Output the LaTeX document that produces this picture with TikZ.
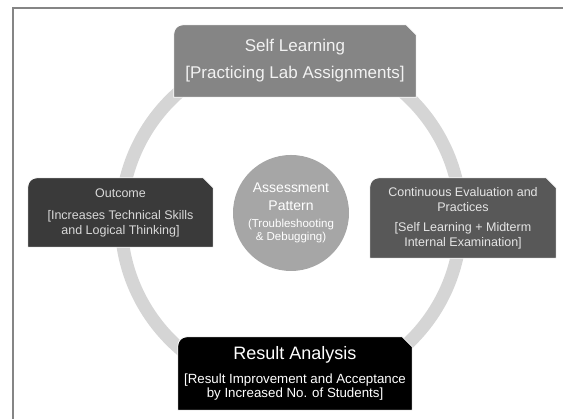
\documentclass[tikz,border=0pt]{standalone}
\usepackage{fontspec}
\setmainfont{Liberation Sans}
\usepackage{xcolor}
\usetikzlibrary{backgrounds}
\definecolor{ringgrey}{HTML}{D5D5D5}
\definecolor{framegrey}{HTML}{858585}
\definecolor{selfgrey}{HTML}{858585}
\definecolor{outgrey}{HTML}{3A3A3A}
\definecolor{evalgrey}{HTML}{585858}
\definecolor{patterngrey}{HTML}{A6A6A6}
\definecolor{softwhite}{HTML}{F2F2F2}
\newcommand{\smallline}{\fontsize{11.5}{14}\selectfont}
\tikzset{
  card/.style={inner sep=0pt, align=center, text=softwhite, font=\fontsize{12.5}{15}\selectfont},
  hub/.style={circle, fill=patterngrey, inner sep=0pt, minimum size=116pt, align=center, text=white,
              font=\fontsize{14}{18}\selectfont},
  cycle ring/.style={draw=ringgrey, line width=13pt},
}
% card body: rounded top-left corner, snipped top-right corner
\newcommand{\cardfill}[2]{%
  \fill[#2, draw=white, line width=0.8pt] (#1.south west)
    -- ([yshift=-9pt]#1.north west) arc[start angle=180, end angle=90, radius=9pt]
    -- ([xshift=-10pt]#1.north east) -- ([yshift=-10pt]#1.north east)
    -- (#1.south east) -- cycle;}

\begin{document}
\begin{tikzpicture}[x=1pt, y=1pt]
  \useasboundingbox (0,0) rectangle (563,419);

  % Frame (only top and left edges show)
  \draw[framegrey, line width=1.5pt] (13,0) -- (13,411) -- (563,411);

  % Four stages round the cycle
  \node[card, minimum width=242pt, minimum height=72pt,
        font=\fontsize{17}{27}\selectfont] (selfbox) at (295,358)
    {\raisebox{-3pt}{Self Learning}\\\raisebox{-3pt}{[Practicing Lab Assignments]}};
  \node[card, minimum width=185pt, minimum height=69pt, text=white!85!black] (outbox) at (120.5,206.5)
    {\raisebox{-3pt}{Outcome}\\[7pt]\raisebox{-3pt}{[Increases Technical Skills}\\\raisebox{-3pt}{and Logical Thinking]}};
  \node[card, minimum width=186pt, minimum height=80pt, text=white!90!black] (evalbox) at (463,201)
    {Continuous Evaluation and\\Practices\\[5pt]{}[Self Learning + Midterm\\Internal Examination]};
  \node[card, minimum width=234pt, minimum height=73pt, text=white,
        font=\fontsize{13.3}{14.5}\selectfont] (resbox) at (295,45.5)
    {\fontsize{18}{18}\selectfont Result Analysis\\[9pt]{}[Result Improvement and Acceptance\\by Increased No. of Students]};

  % Centre
  \node[hub] (pattern) at (291,206)
    {Assessment\\Pattern\\[-1pt]\smallline (Troubleshooting\\[-5pt]\smallline \& Debugging)};

  \begin{scope}[on background layer]
    \draw[cycle ring] (291,199) circle[radius=170];
    \cardfill{selfbox}{selfgrey}
    \cardfill{outbox}{outgrey}
    \cardfill{evalbox}{evalgrey}
    \cardfill{resbox}{black}
  \end{scope}
\end{tikzpicture}
\end{document}
